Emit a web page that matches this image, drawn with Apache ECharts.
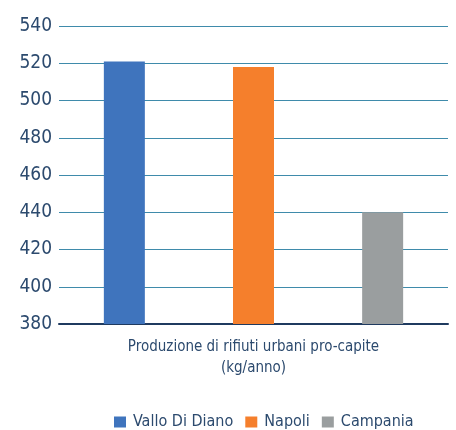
<!DOCTYPE html>
<html>
<head>
<meta charset="utf-8">
<script src="https://cdn.jsdelivr.net/npm/echarts@6/dist/echarts.min.js"></script>
<style>
  html, body { margin: 0; padding: 0; background: #fff; }
  #grafico { width: 456px; height: 430px; }
</style>
</head>
<body>
<div id="grafico"></div>
<script>
var categorie = ["Produzione di rifiuti urbani pro-capite\n(kg/anno)"];
var valloDiDiano = [521];
var napoli = [518];
var campania = [440];
var tickY = [380, 400, 420, 440, 460, 480, 500, 520, 540];

var font = '"Liberation Sans Narrow", "DejaVu Sans Condensed", sans-serif';
var testo = "#2c4a6e";

var myChart = echarts.init(document.getElementById("grafico"));
var option = {
  animation: false,
  textStyle: { fontFamily: font },
  grid: { left: 59, right: 8, top: 26, bottom: 106 },
  legend: {
    top: 414,
    left: 114,
    padding: 0,
    itemWidth: 12,
    itemHeight: 11,
    itemGap: 12,
    icon: "rect",
    textStyle: { color: testo, fontSize: 16, fontFamily: font, padding: [0, 0, 0, 2] },
    data: ["Vallo Di Diano", "Napoli", "Campania"]
  },
  xAxis: {
    type: "category",
    data: categorie,
    axisLine: { lineStyle: { color: "#1f3a5f", width: 2 } },
    axisTick: { show: false },
    axisLabel: {
      color: testo,
      fontSize: 15,
      lineHeight: 21,
      margin: 13,
      fontFamily: font
    }
  },
  yAxis: {
    type: "value",
    min: tickY[0],
    max: tickY[tickY.length - 1],
    interval: 20,
    axisLine: { show: false },
    axisTick: { show: false },
    axisLabel: { color: testo, fontSize: 19, margin: 7, fontFamily: font },
    splitLine: { lineStyle: { color: "#3f8bab", width: 1.2 } }
  },
  series: [
    { name: "Vallo Di Diano", type: "bar", data: valloDiDiano, barWidth: 41, barGap: "215%", itemStyle: { color: "#3f74bd" } },
    { name: "Napoli", type: "bar", data: napoli, barWidth: 41, barGap: "215%", itemStyle: { color: "#f57f2c" } },
    { name: "Campania", type: "bar", data: campania, barWidth: 41, barGap: "215%", itemStyle: { color: "#9a9e9f" } }
  ]
};
myChart.setOption(option);
window.onresize = function () {
  myChart.resize();
};
</script>
</body>
</html>
